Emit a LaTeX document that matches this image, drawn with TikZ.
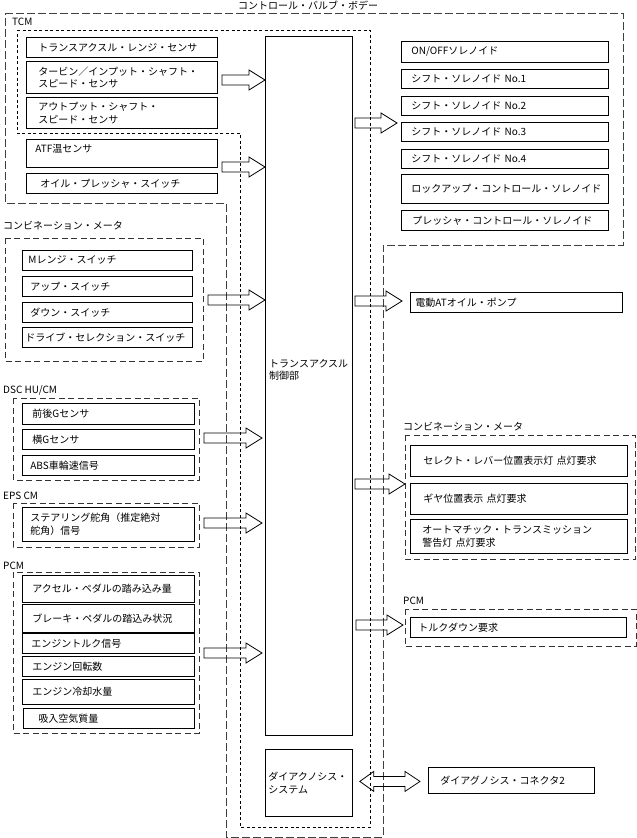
\documentclass[tikz,border=0pt]{standalone}
\usepackage{fontspec}
\usepackage{tikz}
\usetikzlibrary{calc}
\newfontfamily\jpfam{Noto Sans CJK JP}

\tikzset{
  sbox/.style={draw, line width=0.8pt, anchor=north west, inner ysep=0pt, align=left},
  grp/.style={line width=0.8pt, dash pattern=on 6pt off 3.5pt, black!80},
  tcmline/.style={line width=0.8pt, dash pattern=on 3pt off 2.5pt},
  bodyline/.style={line width=0.8pt, dash pattern=on 8pt off 3pt, black!75},
  arrowline/.style={line width=0.8pt, line join=miter},
  lbl/.style={anchor=west, inner sep=0pt}
}

% hollow block arrow: start, tip (same height)
\newcommand{\hollowarrow}[2]{%
  \draw[arrowline] let \p1=(#1), \p2=(#2) in
    (\x1,\y1+5pt) -- (\x2-16pt,\y1+5pt) -- (\x2-16pt,\y1+10pt) -- (\x2,\y1)
    -- (\x2-16pt,\y1-10pt) -- (\x2-16pt,\y1-5pt) -- (\x1,\y1-5pt) -- cycle;}
% hollow double arrow
\newcommand{\hollowdarrow}[2]{%
  \draw[arrowline] let \p1=(#1), \p2=(#2) in
    (\x1,\y1) -- (\x1+14pt,\y1+10pt) -- (\x1+14pt,\y1+5pt) -- (\x2-15pt,\y1+5pt)
    -- (\x2-15pt,\y1+10pt) -- (\x2,\y1) -- (\x2-15pt,\y1-10pt) -- (\x2-15pt,\y1-5pt)
    -- (\x1+14pt,\y1-5pt) -- (\x1+14pt,\y1-10pt) -- cycle;}

\begin{document}
\begin{tikzpicture}[x=1pt,y=-1pt,font=\jpfam\fontsize{10}{12.5}\selectfont]
\useasboundingbox (0,0) rectangle (637,838);

%Control valve body outline
\draw[bodyline] (5,13) -- (623,13) -- (623,245) -- (383,245) -- (383,837) -- (226,837) -- (226,203) -- (5,203) -- cycle;
\node[lbl] (bodyLbl) at (238,5) {コントロール・バルブ・ボデー};

%TCM outline
\draw[tcmline] (17,30) -- (370,30) -- (370,827) -- (240,827) -- (240,133) -- (17,133) -- cycle;
\node[lbl] (tcmLbl) at (12,22) {TCM};

% TCM sensors
\node[sbox, inner xsep=12, text width=167, minimum height=20] (tcmRange) at (26,37) {トランスアクスル・レンジ・センサ};
\node[sbox, inner xsep=12, text width=167, minimum height=32] (tcmTurbine) at (26,61) {タービン／インプット・シャフト・\\スピード・センサ};
\node[sbox, inner xsep=12, text width=167, minimum height=31] (tcmOutput) at (26,97) {アウトプット・シャフト・\\スピード・センサ};
\node[sbox, inner xsep=9, text width=173, minimum height=28, text depth=10] (atfTemp) at (26,139) {ATF温センサ};
\node[sbox, inner xsep=14, text width=163, minimum height=20] (oilSw) at (26,173) {オイル・プレッシャ・スイッチ};

% Main unit
\node[sbox, minimum width=87, minimum height=699] (ctrl) at (265,36) {};
\node[lbl, align=left] (ctrlTxt) at (269,370) {トランスアクスル\\制御部};
\node[sbox, inner xsep=3, text width=81, minimum height=67] (diagSys) at (265,749) {ダイアクノシス・\\システム};

% Solenoids
\node[sbox, inner xsep=10, text width=187, minimum height=21] (solOnOff) at (401,41) {ON/OFFソレノイド};
\node[sbox, inner xsep=10, text width=187, minimum height=19] (sol1) at (401,69) {シフト・ソレノイド No.1};
\node[sbox, inner xsep=10, text width=187, minimum height=19] (sol2) at (401,96) {シフト・ソレノイド No.2};
\node[sbox, inner xsep=10, text width=187, minimum height=19] (sol3) at (401,122) {シフト・ソレノイド No.3};
\node[sbox, inner xsep=10, text width=187, minimum height=19] (sol4) at (401,149) {シフト・ソレノイド No.4};
\node[sbox, inner xsep=10, text width=187, minimum height=29] (solLockup) at (401,174) {ロックアップ・コントロール・ソレノイド};
\node[sbox, inner xsep=11, text width=185, minimum height=20] (solPressure) at (401,210) {プレッシャ・コントロール・ソレノイド};

% Combination meter (inputs)
\draw[grp] (5,238) rectangle (203,361);
\node[lbl] (meterInLbl) at (3,226) {コンビネーション・メータ};
\node[sbox, inner xsep=6, text width=158, minimum height=20] (mRange) at (22,250) {Mレンジ・スイッチ};
\node[sbox, inner xsep=8, text width=154, minimum height=20] (upSw) at (22,276) {アップ・スイッチ};
\node[sbox, inner xsep=8, text width=154, minimum height=20] (downSw) at (22,302) {ダウン・スイッチ};
\node[sbox, inner xsep=3, text width=164, minimum height=20] (driveSel) at (22,327) {ドライブ・セレクション・スイッチ};

% DSC HU/CM
\draw[grp] (13,398) rectangle (199,480);
\node[lbl] (dscLbl) at (3,390) {DSC HU/CM};
\node[sbox, inner xsep=10, text width=152, minimum height=21] (gLong) at (22,403) {前後Gセンサ};
\node[sbox, inner xsep=10, text width=152, minimum height=20] (gLat) at (22,429) {横Gセンサ};
\node[sbox, inner xsep=8, text width=156, minimum height=20] (absSpeed) at (22,455) {ABS車輪速信号};

% EPS CM
\draw[grp] (13,503) rectangle (199,547);
\node[lbl] (epsLbl) at (3,496) {EPS CM};
\node[sbox, inner xsep=8, text width=156, minimum height=34] (steer) at (22,507) {ステアリング舵角（推定絶対\\舵角）信号};

% PCM (inputs)
\draw[grp] (13,572) rectangle (199,733);
\node[lbl] (pcmInLbl) at (3,566) {PCM};
\node[sbox, inner xsep=10, text width=152, minimum height=27] (accel) at (22,575) {アクセル・ペダルの踏み込み量};
\node[sbox, inner xsep=10, text width=152, minimum height=28] (brake) at (22,604) {ブレーキ・ペダルの踏込み状況};
\node[sbox, inner xsep=9, text width=154, minimum height=20] (engTorque) at (22,633) {エンジントルク信号};
\node[sbox, inner xsep=10, text width=152, minimum height=20] (engSpeed) at (22,656) {エンジン回転数};
\node[sbox, inner xsep=10, text width=152, minimum height=25] (coolant) at (22,679) {エンジン冷却水量};
\node[sbox, inner xsep=15, text width=141, minimum height=20] (airMass) at (23,708) {吸入空気質量};

% Outputs
\node[sbox, inner xsep=5, text width=202, minimum height=20] (pump) at (410,292) {電動ATオイル・ポンプ};

\draw[grp] (405,435) rectangle (635,559);
\node[lbl] (meterOutLbl) at (403,427) {コンビネーション・メータ};
\node[sbox, inner xsep=13, text width=191, minimum height=31] (selLamp) at (410,445) {セレクト・レバー位置表示灯 点灯要求};
\node[sbox, inner xsep=13, text width=191, minimum height=31] (gearLamp) at (410,483) {ギヤ位置表示 点灯要求};
\node[sbox, inner xsep=12, text width=193, minimum height=34] (atLamp) at (410,519) {オートマチック・トランスミッション\\警告灯 点灯要求};

\draw[grp] (405,609) rectangle (636,646);
\node[lbl] (pcmOutLbl) at (403,601) {PCM};
\node[sbox, inner xsep=8, text width=200, minimum height=20] (torqueDown) at (410,617) {トルクダウン要求};

\node[sbox, inner xsep=12, text width=142, minimum height=26] (diagConn) at (428,767) {ダイアグノシス・コネクタ2};

% Arrow starts
\coordinate (inTcmA) at (222,80);
\coordinate (inTcmB) at (222,167);
\coordinate (inMeter) at (208,300);
\coordinate (inDsc) at (204,438);
\coordinate (inEps) at (204,523);
\coordinate (inPcm) at (204,653);
\coordinate (outSol) at (355,123);
\coordinate (outPump) at (355,301);
\coordinate (outMeter) at (355,484);
\coordinate (outPcm) at (356,625);

% Input arrows
\hollowarrow{inTcmA}{inTcmA -| ctrl.west}
\hollowarrow{inTcmB}{inTcmB -| ctrl.west}
\hollowarrow{inMeter}{inMeter -| ctrl.west}
\hollowarrow{inDsc}{$(inDsc -| ctrl.west)+(-3,0)$}
\hollowarrow{inEps}{$(inEps -| ctrl.west)+(-3,0)$}
\hollowarrow{inPcm}{$(inPcm -| ctrl.west)+(-3,0)$}

% Output arrows
\hollowarrow{outSol}{$(outSol -| sol3.west)+(-4,0)$}
\hollowarrow{outPump}{$(outPump -| pump.west)+(-8,0)$}
\hollowarrow{outMeter}{$(outMeter -| gearLamp.west)+(-5,0)$}
\hollowarrow{outPcm}{$(outPcm -| torqueDown.west)+(-7,0)$}

% Diagnosis link
\hollowdarrow{$(diagSys.east)+(7,-1.5)$}{$(diagSys.east -| diagConn.west)+(-8,-1.5)$}
\end{tikzpicture}
\end{document}
